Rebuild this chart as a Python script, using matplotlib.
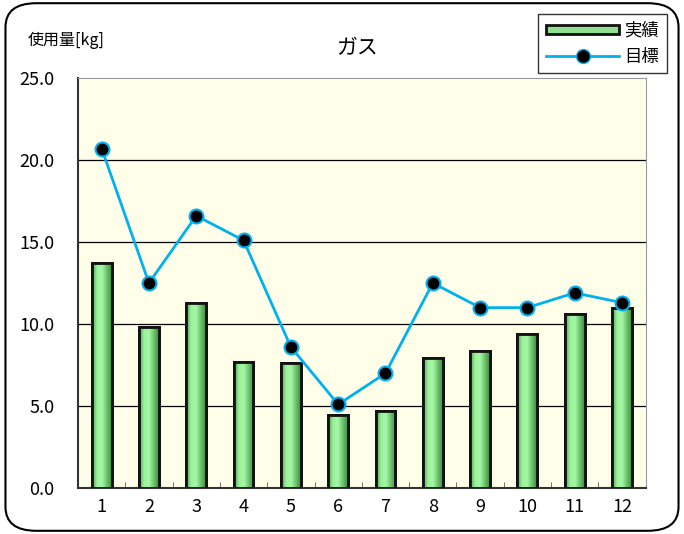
import numpy as np
import matplotlib
matplotlib.use("Agg")
import matplotlib.pyplot as plt
from matplotlib.patches import FancyBboxPatch, Rectangle
from matplotlib.lines import Line2D
from matplotlib.colors import LinearSegmentedColormap

plt.rcParams["font.family"] = ["Noto Sans CJK JP", "DejaVu Sans"]

months = [str(i) for i in range(1, 13)]
actual = [13.7, 9.8, 11.3, 7.7, 7.6, 4.45, 4.7, 7.9, 8.35, 9.4, 10.6, 11.0]
target = [20.7, 12.5, 16.6, 15.1, 8.6, 5.1, 7.0, 12.5, 11.0, 11.0, 11.9, 11.3]
yticks = [0, 5, 10, 15, 20, 25]

fig = plt.figure(figsize=(6.84, 5.34), dpi=100)
fig.patch.set_facecolor("white")
# 外枠(角丸)
fig.patches.append(FancyBboxPatch((0.008, 0.006), 0.984, 0.988, boxstyle="round,pad=0,rounding_size=0.045",
                                  transform=fig.transFigure, fc="none", ec="black", lw=1.5))

ax = fig.add_axes([0.114, 0.086, 0.830, 0.768])
ax.set_facecolor("#fefee9")
x = np.arange(len(months))
w = 0.42
bars = ax.bar(x, actual, width=w, color="#8fdf8f", edgecolor="#111111", lw=2, zorder=3)

# 棒のグラデーション
cmap = LinearSegmentedColormap.from_list("g", ["#4e9e4e", "#9cf29c", "#a6f7a6", "#6cc46c", "#3f8a3f"])
grad = np.linspace(0, 1, 64).reshape(1, -1)
for b in bars:
    im = ax.imshow(grad, cmap=cmap, aspect="auto", zorder=3.5,
                   extent=[b.get_x(), b.get_x() + b.get_width(), 0, b.get_height()])
    im.set_clip_path(b)
    ax.bar(b.get_x() + w / 2, b.get_height(), width=w, fc="none", ec="#111111", lw=2, zorder=4)

ax.plot(x, target, color="#00b0f0", lw=2, marker="o", ms=10, mfc="black", mec="#00b0f0", mew=1.5, zorder=5)

ax.set_xlim(-0.5, 11.5)
ax.set_ylim(0, 25)
ax.set_yticks(yticks)
ax.set_yticklabels([f"{v:.1f}" for v in yticks], fontsize=13)
ax.set_xticks(x)
ax.set_xticklabels(months, fontsize=13)
ax.set_xticks(np.arange(-0.5, 12, 1), minor=True)
ax.tick_params(axis="x", which="major", length=0, pad=7)
ax.tick_params(axis="x", which="minor", direction="in", length=4, color="#555555")
ax.tick_params(axis="y", length=0, pad=17)
for yv in yticks[1:-1]:
    ax.axhline(yv, color="black", lw=0.9, zorder=1)
for s in ["top", "right"]:
    ax.spines[s].set_color("#999999")
ax.spines["left"].set_color("#333333")
ax.spines["bottom"].set_color("#333333")
ax.spines["bottom"].set_linewidth(1.5)
ax.spines["left"].set_linewidth(1.5)

fig.text(0.522, 0.91, "ガス", fontsize=15, ha="center", va="center")
fig.text(0.040, 0.925, "使用量[kg]", fontsize=11.5, ha="left", va="center")

h1 = Rectangle((0, 0), 1, 1, fc="#8fdf8f", ec="#111111", lw=2)
h2 = Line2D([], [], color="#00b0f0", lw=2, marker="o", ms=10, mfc="black", mec="#00b0f0")
leg = fig.legend([h1, h2], ["実績", "目標"], loc="upper right", bbox_to_anchor=(0.975, 0.974),
                 fontsize=12.5, frameon=True, fancybox=False, edgecolor="black",
                 handlelength=4.2, handleheight=0.5, labelspacing=0.45, borderpad=0.45, handletextpad=0.3,
                 borderaxespad=0)
leg.get_frame().set_linewidth(1)

fig.savefig("out.png", dpi=100)
